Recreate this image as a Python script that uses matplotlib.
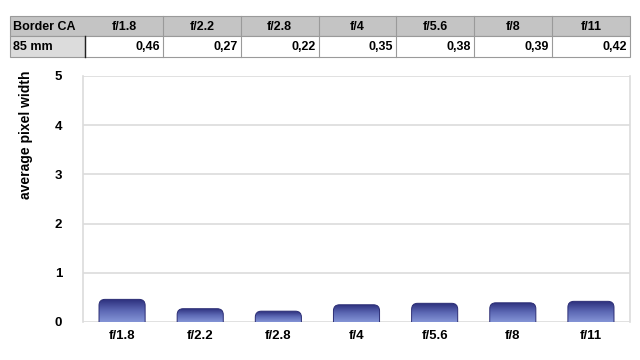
import numpy as np
import matplotlib
matplotlib.use("Agg")
import matplotlib.pyplot as plt
from matplotlib.patches import FancyBboxPatch, Rectangle
from matplotlib.colors import LinearSegmentedColormap

plt.rcParams['font.family'] = ['Liberation Sans Narrow', 'Liberation Sans', 'DejaVu Sans']
plt.rcParams['font.weight'] = 'bold'
plt.rcParams['axes.labelweight'] = 'bold'

# data
apertures = ['f/1.8', 'f/2.2', 'f/2.8', 'f/4', 'f/5.6', 'f/8', 'f/11']
values = [0.46, 0.27, 0.22, 0.35, 0.38, 0.39, 0.42]
value_labels = ['0,46', '0,27', '0,22', '0,35', '0,38', '0,39', '0,42']
row_header = 'Border CA'
row_name = '85 mm'

W, H = 640, 360
fig = plt.figure(figsize=(W / 100, H / 100), dpi=100)

# ---- table at the top (pixel coordinates) ----
tab = fig.add_axes([0, 0, 1, 1])
tab.set_xlim(0, W)
tab.set_ylim(H, 0)
tab.axis('off')
x0, x1 = 10, 85
colw = (630 - x1) / len(apertures)
r0, r1, r2 = 16, 36, 57
edge = '#9a9a9a'
fs = 9
tab.add_patch(Rectangle((x0, r0), 630 - x0, r1 - r0, fc='#c4c4c4', ec=edge, lw=0.8))
tab.add_patch(Rectangle((x0, r1), x1 - x0, r2 - r1, fc='#dcdcdc', ec=edge, lw=0.8))
tab.add_patch(Rectangle((x1, r1), 630 - x1, r2 - r1, fc='white', ec=edge, lw=0.8))
tab.plot([x1, x1], [r1, r2], color='#222222', lw=1.0)
tab.text(x0 + 3, (r0 + r1) / 2 + 0.5, row_header, ha='left', va='center', fontsize=fs)
tab.text(x0 + 3, (r1 + r2) / 2 + 0.5, row_name, ha='left', va='center', fontsize=fs)
for i, (a, v) in enumerate(zip(apertures, value_labels)):
    cx = x1 + i * colw
    if i > 0:
        tab.plot([cx, cx], [r0, r2], color=edge, lw=0.8)
    tab.text(cx + colw / 2, (r0 + r1) / 2 + 0.5, a, ha='center', va='center', fontsize=fs)
    tab.text(cx + colw - 3, (r1 + r2) / 2 + 0.5, v, ha='right', va='center', fontsize=fs)

# ---- bar chart ----
ax = fig.add_axes([83 / W, 1 - 322 / H, (630 - 83) / W, (322 - 76) / H])
ax.set_xlim(-0.5, len(apertures) - 0.5)
ax.set_ylim(0, 5)
ax.set_yticks(range(6))
ax.set_xticks(range(len(apertures)))
ax.set_xticklabels(apertures)
ax.grid(axis='y', color='#dcdcdc', lw=1.2)
ax.set_axisbelow(True)
for s in ['top', 'bottom']:
    ax.spines[s].set_visible(False)
for s in ['left', 'right']:
    ax.spines[s].set_color('#dcdcdc')
    ax.spines[s].set_linewidth(1.2)
ax.tick_params(axis='both', length=0, labelsize=9.5)
ax.tick_params(axis='y', pad=15)
ax.tick_params(axis='x', pad=6)
ax.set_ylabel('average pixel width', fontsize=10)
ax.yaxis.set_label_coords(-0.092, 0.76)

cmap = LinearSegmentedColormap.from_list('bar', ['#8494d6', '#5c68b4', '#2c2f7c'])
grad = np.linspace(0, 1, 64).reshape(-1, 1)
bw = 0.59
px_x = (630 - 83) / len(apertures)
px_y = (322 - 76) / 5
r = 6 / px_x
aspect = (6 / px_y) / r
for i, v in enumerate(values):
    patch = FancyBboxPatch((i - bw / 2, -0.3), bw, v + 0.3,
                           boxstyle='round,pad=0,rounding_size=%f' % r,
                           mutation_aspect=aspect, fc='none', ec='#2a2c74', lw=0.7, zorder=3)
    ax.add_patch(patch)
    im = ax.imshow(grad, cmap=cmap, aspect='auto', origin='lower',
                   extent=(i - bw / 2, i + bw / 2, 0, v), zorder=2)
    im.set_clip_path(patch)
ax.set_xlim(-0.5, len(apertures) - 0.5)
ax.set_ylim(0, 5)

fig.savefig('out.png', dpi=100)
